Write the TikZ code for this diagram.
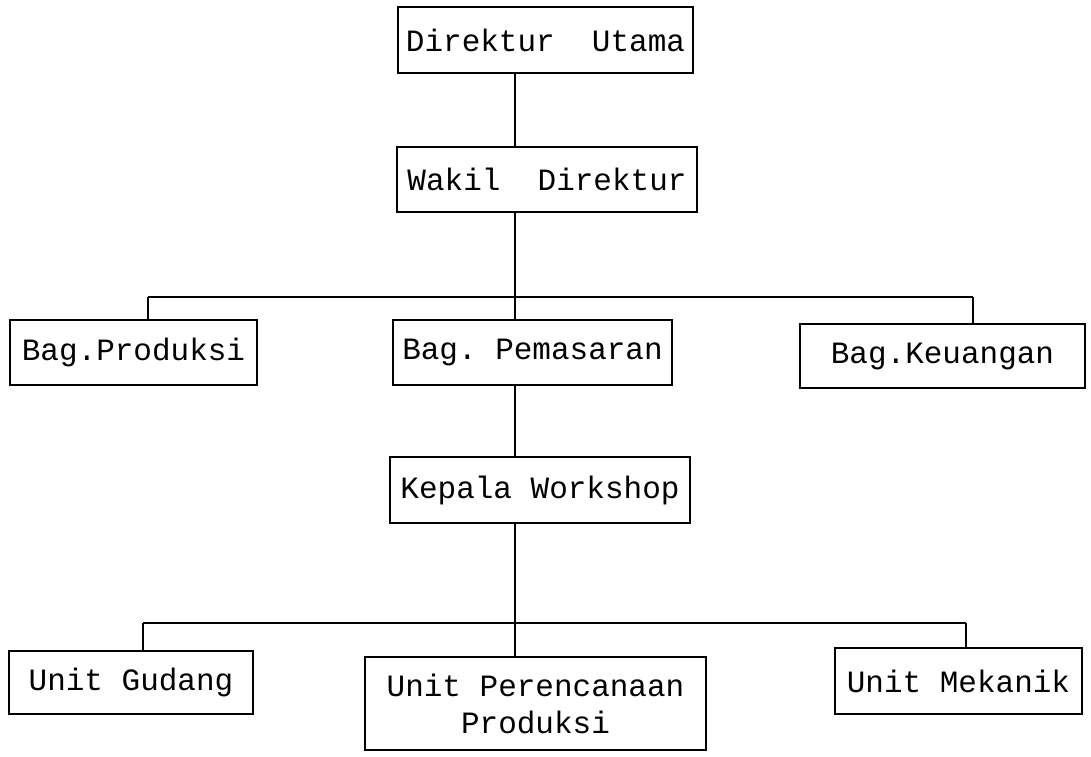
\documentclass[tikz,border=0pt]{standalone}
\usepackage{fontspec}
\setmonofont{Liberation Mono}
\begin{document}
\begin{tikzpicture}[x=1pt,y=-1pt,
  box/.style={draw, line width=1.6pt, inner sep=0pt, align=center,
    font=\ttfamily\fontsize{31}{37}\selectfont},
  conn/.style={line width=1.8pt}]
\useasboundingbox[fill=white] (0,0) rectangle (1091,756);
% boxes
\node[box, minimum width=295pt, minimum height=66pt] (du) at (545.5,40) {Direktur\ \ Utama};
\node[box, minimum width=300pt, minimum height=65pt] (wd) at (547,179.5) {Wakil\ \ Direktur};
\node[box, minimum width=247pt, minimum height=65pt] (bp) at (133.5,352.5) {Bag.Produksi};
\node[box, minimum width=279pt, minimum height=65pt] (pm) at (532.5,352.5) {Bag.\ Pemasaran};
\node[box, minimum width=285pt, minimum height=64pt] (bk) at (942.5,356) {Bag.Keuangan};
\node[box, minimum width=300pt, minimum height=66pt] (kw) at (540,490) {Kepala Workshop};
\node[box, minimum width=244pt, minimum height=63pt] (ug) at (131,682.5) {Unit Gudang};
\node[box, minimum width=341pt, minimum height=93pt] (up) at (535.5,703.5) {Unit Perencanaan\\Produksi};
\node[box, minimum width=247pt, minimum height=66pt] (um) at (958.5,681) {Unit Mekanik};
% junctions
\coordinate (b1) at (515,297);
\coordinate (b1l) at (148,297);
\coordinate (b1r) at (973,297);
\coordinate (b2) at (515,623);
\coordinate (b2l) at (143,623);
\coordinate (b2r) at (966,623);
% connectors
\draw[conn] (du.south -| b1) -- (wd.north -| b1);
\draw[conn] (wd.south -| b1) -- (b1);
\draw[conn] (b1l) -- (b1r);
\draw[conn] (b1l) -- (bp.north -| b1l);
\draw[conn] (b1) -- (pm.north -| b1);
\draw[conn] (b1r) -- (bk.north -| b1r);
\draw[conn] (pm.south -| b1) -- (kw.north -| b1);
\draw[conn] (kw.south -| b2) -- (b2);
\draw[conn] (b2l) -- (b2r);
\draw[conn] (b2l) -- (ug.north -| b2l);
\draw[conn] (b2) -- (up.north -| b2);
\draw[conn] (b2r) -- (um.north -| b2r);
\end{tikzpicture}
\end{document}
